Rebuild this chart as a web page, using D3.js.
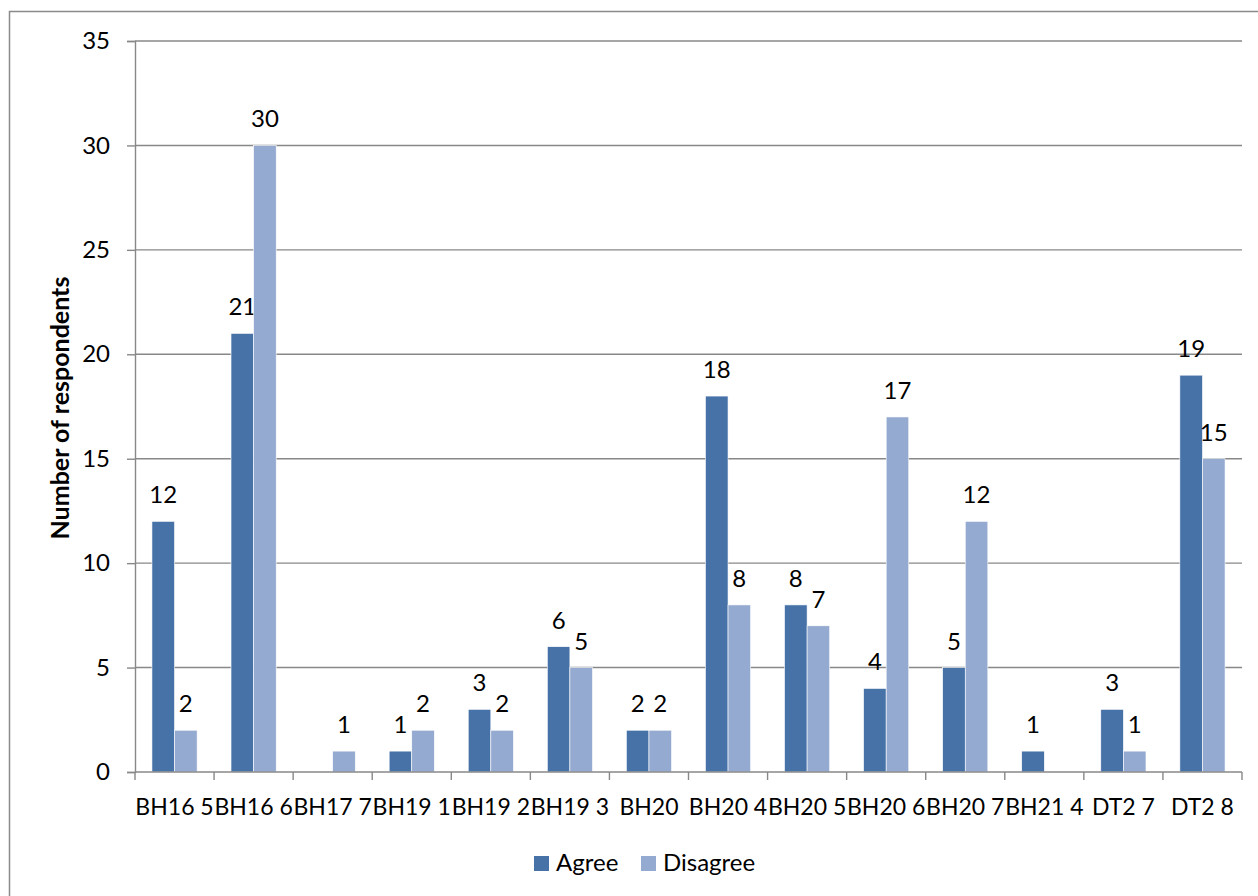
<!DOCTYPE html>
<html>
<head>
<meta charset="utf-8">
<script src="https://cdn.jsdelivr.net/npm/d3@7"></script>
<style>
  html, body { margin: 0; padding: 0; background: #fff; }
  svg { display: block; }
  text { font-family: Lato, "Noto Sans", sans-serif; fill: #000; }
</style>
</head>
<body>
<script>
// Survey responses per site
const categories = ["BH16 5", "BH16 6", "BH17 7", "BH19 1", "BH19 2", "BH19 3", "BH20",
                    "BH20 4", "BH20 5", "BH20 6", "BH20 7", "BH21 4", "DT2 7", "DT2 8"];
const agree    = [12, 21, null, 1, 3, 6, 2, 18, 8, 4, 5, 1, 3, 19];
const disagree = [2, 30, 1, 2, 2, 5, 2, 8, 7, 17, 12, null, 1, 15];
const seriesNames = ["Agree", "Disagree"];
const yTicks = [0, 5, 10, 15, 20, 25, 30, 35];

const colors = ["#4672A8", "#95AAD0"];
const W = 1258, H = 896;
const plot = { left: 135, right: 1242, top: 41, bottom: 772 };
const FS = 24;

const svg = d3.select("body").append("svg").attr("width", W).attr("height", H);

// chart frame
svg.append("rect")
  .attr("x", 9.5).attr("y", 11.5).attr("width", 1270).attr("height", 920)
  .attr("fill", "none").attr("stroke", "#8a8a8a").attr("stroke-width", 1.5);

const x = d3.scaleBand().domain(categories).range([plot.left, plot.right]).paddingInner(0).paddingOuter(0);
const y = d3.scaleLinear().domain([0, 35]).range([plot.bottom, plot.top]);

// bar width follows a 150% gap between groups
const barW = x.bandwidth() / 3.5;
const groupOffset = (x.bandwidth() - 2 * barW) / 2;

// gridlines
svg.append("g").selectAll("line").data(yTicks.filter(d => d > 0)).join("line")
  .attr("x1", plot.left).attr("x2", plot.right)
  .attr("y1", d => y(d)).attr("y2", d => y(d))
  .attr("stroke", "#888").attr("stroke-width", 1.4);

// y axis
const yAxis = svg.append("g").attr("transform", `translate(${plot.left},0)`)
  .call(d3.axisLeft(y).tickValues(yTicks).tickSize(8).tickPadding(17).tickFormat(d3.format("d")));
yAxis.select(".domain").attr("stroke", "#888").attr("stroke-width", 1.4);
yAxis.selectAll(".tick line").attr("stroke", "#888").attr("stroke-width", 1.4);
yAxis.selectAll(".tick text").attr("font-size", FS).attr("font-family", "Lato, sans-serif").attr("fill", "#000");

// bars
const series = [agree, disagree];
series.forEach((vals, si) => {
  const data = categories.map((c, i) => ({ c, v: vals[i] })).filter(d => d.v != null);
  svg.append("g").selectAll("rect").data(data).join("rect")
    .attr("x", d => x(d.c) + groupOffset + si * barW)
    .attr("y", d => y(d.v))
    .attr("width", barW)
    .attr("height", d => y(0) - y(d.v))
    .attr("fill", colors[si])
    .attr("stroke", "#fff").attr("stroke-width", 0.6);
  svg.append("g").selectAll("text").data(data).join("text")
    .attr("x", d => x(d.c) + groupOffset + si * barW + barW / 2)
    .attr("y", d => y(d.v) - 18)
    .attr("text-anchor", "middle")
    .attr("font-size", FS)
    .text(d => d.v);
});

// x axis
const xAxis = svg.append("g").attr("transform", `translate(0,${plot.bottom})`);
xAxis.append("line").attr("x1", plot.left).attr("x2", plot.right)
  .attr("stroke", "#888").attr("stroke-width", 1.4);
const boundaries = categories.map(c => x(c)).concat([plot.right]);
xAxis.selectAll("line.tk").data(boundaries).join("line").attr("class", "tk")
  .attr("x1", d => d).attr("x2", d => d).attr("y1", 0).attr("y2", 8)
  .attr("stroke", "#888").attr("stroke-width", 1.4);
xAxis.selectAll("text").data(categories).join("text")
  .attr("x", d => x(d) + x.bandwidth() / 2)
  .attr("y", 43)
  .attr("text-anchor", "middle")
  .attr("font-size", 23)
  .text(d => d);

// y axis title
svg.append("text")
  .attr("transform", `translate(69,408) rotate(-90)`)
  .attr("text-anchor", "middle")
  .attr("font-size", 25)
  .attr("font-weight", "bold")
  .text("Number of respondents");

// legend
const legend = svg.append("g").attr("transform", "translate(534,856)");
const legendX = [0, 107];
seriesNames.forEach((name, i) => {
  const g = legend.append("g").attr("transform", `translate(${legendX[i]},0)`);
  g.append("rect").attr("width", 15).attr("height", 15).attr("fill", colors[i]);
  g.append("text").attr("x", 22).attr("y", 15).attr("font-size", FS).text(name);
});
</script>
</body>
</html>
